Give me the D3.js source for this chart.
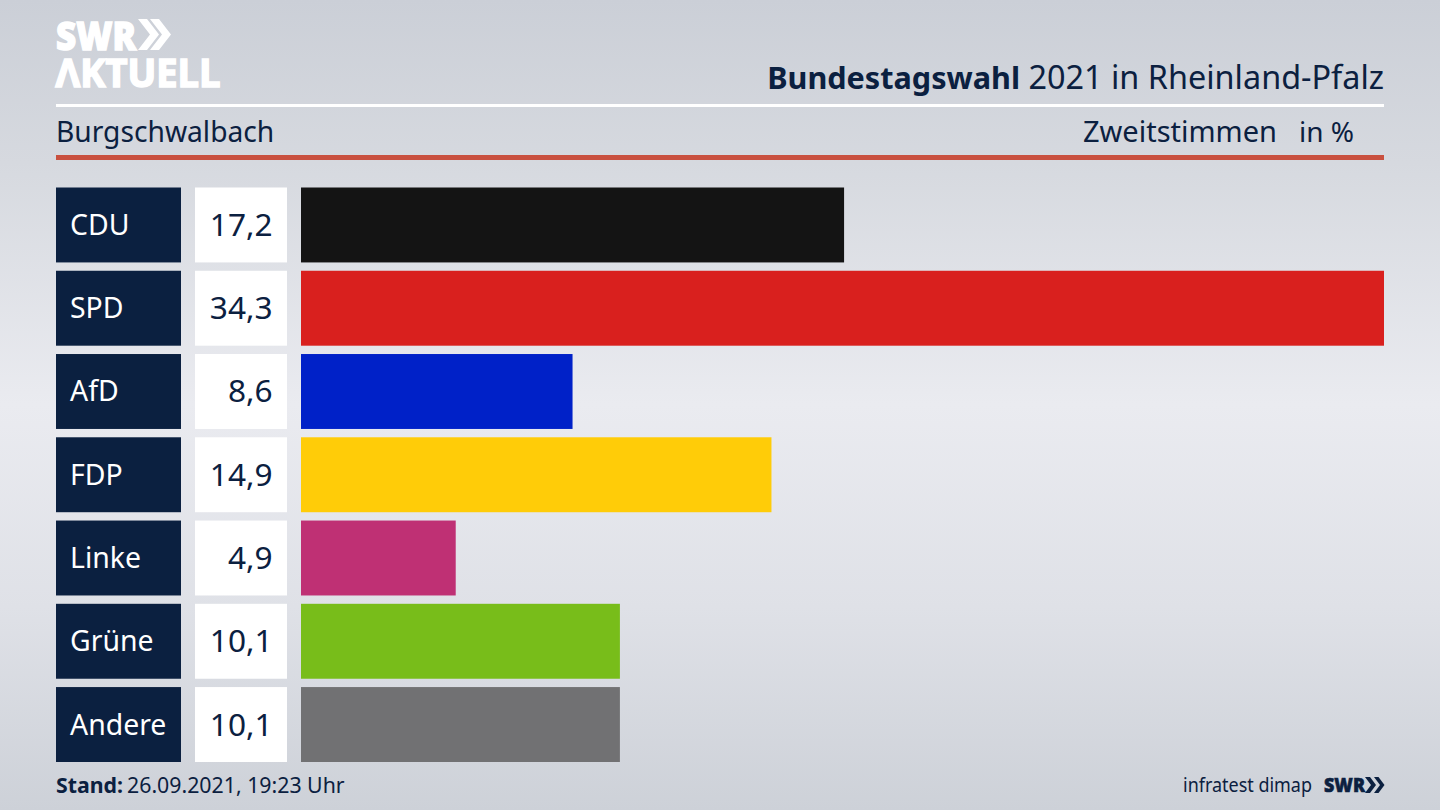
<!DOCTYPE html>
<html><head><meta charset="utf-8">
<script src="https://cdn.jsdelivr.net/npm/d3@7/dist/d3.min.js"></script>
<style>html,body{margin:0;padding:0;overflow:hidden;background:#dcdee4}svg{display:block}text{font-family:"Noto Sans",sans-serif}</style>
</head><body>
<script>
const parties = ["CDU","SPD","AfD","FDP","Linke","Grüne","Andere"];
const values = [17.2,34.3,8.6,14.9,4.9,10.1,10.1];
const colors = ["#141414","#d9201e","#0021c8","#ffcc08","#bf3074","#78bd1a","#717173"];
const navy = "#0b2040";
const W=1440,H=810;
const svg=d3.select("body").append("svg").attr("width",W).attr("height",H);
const defs=svg.append("defs");
const g=defs.append("linearGradient").attr("id","bg").attr("x1",0).attr("x2",0).attr("y1",0).attr("y2",1);
[[0,"#cbcfd7"],[0.2,"#d6d9df"],[0.5,"#eaebf0"],[0.75,"#dfe1e7"],[1,"#cdd1d8"]].forEach(([o,c])=>g.append("stop").attr("offset",o).attr("stop-color",c));
svg.append("rect").attr("width",W).attr("height",H).attr("fill","url(#bg)");

const x=d3.scaleLinear().domain([0,34.3]).range([301,1384]);
const y=d3.scaleBand().domain(parties).range([187.5,762]).paddingInner(0.1);

function chev(px,py,h,w,fill,t){
  svg.append("path").attr("fill",fill).attr("d",
    d3.line()([[px,py],[px+t,py],[px+t+w,py+h/2],[px+t,py+h],[px,py+h],[px+w,py+h/2]])+"Z");
}
const logo=svg.append("g");
logo.append("text").attr("x",56).attr("y",50).attr("fill","#fff").attr("stroke","#fff").attr("stroke-width",1.4).attr("font-size",38).attr("font-weight",800).attr("textLength",80).attr("lengthAdjust","spacingAndGlyphs").style("font-family","'Open Sans'").text("SWR");
chev(138,19,31,12,"#fff",9);
chev(150,19,31,12,"#fff",9);
logo.append("text").attr("x",55.5).attr("y",87).attr("fill","#fff").attr("stroke","#fff").attr("stroke-width",1.6).attr("font-size",39).attr("font-weight",700).attr("textLength",165).attr("lengthAdjust","spacingAndGlyphs").style("font-family","'Open Sans'").text("ΛKTUELL");

const title=svg.append("text").attr("x",1384).attr("y",89).attr("text-anchor","end").attr("fill",navy);
title.append("tspan").attr("font-weight",700).attr("font-size",30.6).text("Bundestagswahl");
title.append("tspan").attr("font-size",32.4).text(" 2021 in Rheinland-Pfalz");

svg.append("rect").attr("x",56).attr("y",104).attr("width",1328).attr("height",3).attr("fill","#fff");
svg.append("rect").attr("x",56).attr("y",155).attr("width",1328).attr("height",5).attr("fill","#c9503f");
svg.append("text").attr("x",56).attr("y",142).attr("fill",navy).attr("font-size",28.2).text("Burgschwalbach");
svg.append("text").attr("x",1277).attr("y",142).attr("text-anchor","end").attr("fill",navy).attr("font-size",29).text("Zweitstimmen");
svg.append("text").attr("x",1354).attr("y",142).attr("text-anchor","end").attr("fill",navy).attr("font-size",28).text("in %");

const row=svg.selectAll("g.row").data(parties).join("g").attr("class","row");
row.append("rect").attr("x",56).attr("y",d=>y(d)).attr("width",125).attr("height",y.bandwidth()).attr("fill",navy);
row.append("text").attr("x",70).attr("y",d=>y(d)+y.bandwidth()/2+10).attr("fill","#fff").attr("font-size",28.4).text(d=>d);
row.append("rect").attr("x",195).attr("y",d=>y(d)).attr("width",92).attr("height",y.bandwidth()).attr("fill","#fff");
row.append("text").attr("x",272.5).attr("y",d=>y(d)+y.bandwidth()/2+11).attr("text-anchor","end").attr("fill",navy).attr("font-size",31.6)
  .text((d,i)=>d3.format(".1f")(values[i]).replace(".",","));
row.append("rect").attr("x",x(0)).attr("y",d=>y(d)).attr("width",(d,i)=>x(values[i])-x(0)).attr("height",y.bandwidth()).attr("fill",(d,i)=>colors[i]);

const st=svg.append("text").attr("x",56).attr("y",793).attr("fill",navy).attr("font-size",21.3);
st.append("tspan").attr("font-weight",700).text("Stand:");
st.append("tspan").attr("dx",4).text("26.09.2021, 19:23 Uhr");
svg.append("text").attr("x",1183).attr("y",792).attr("fill",navy).attr("font-size",20).attr("textLength",129).attr("lengthAdjust","spacingAndGlyphs").text("infratest dimap");
svg.append("text").attr("x",1324).attr("y",792).attr("fill",navy).attr("stroke",navy).attr("stroke-width",0.6).attr("font-size",20).attr("font-weight",800).attr("textLength",41).attr("lengthAdjust","spacingAndGlyphs").style("font-family","'Open Sans'").text("SWR");
chev(1365,777,16,6,navy,5);
chev(1374,777,16,6,navy,4.5);
</script>
</body></html>
